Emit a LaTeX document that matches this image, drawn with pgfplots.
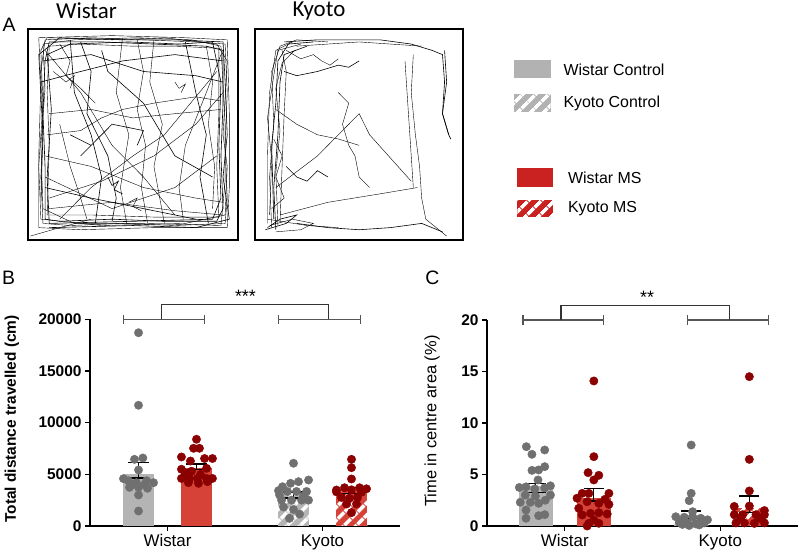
\documentclass[border=0pt]{standalone}
\usepackage{pgfplots}
\pgfplotsset{compat=1.18}
\usepackage{fontspec}
\setmainfont{Liberation Sans}
\newfontfamily\carlito{Carlito}
\usetikzlibrary{patterns.meta}
\definecolor{ctrlbar}{RGB}{180,180,180}
\definecolor{msbar}{RGB}{214,66,56}
\definecolor{ctrldot}{RGB}{112,112,112}
\definecolor{msdot}{RGB}{139,0,0}
\definecolor{leggray}{RGB}{178,178,178}
\definecolor{legred}{RGB}{202,34,32}
\definecolor{brk}{RGB}{85,85,85}
\newcommand{\errbar}[4]{% x, lo, hi, halfwidth
  \addplot[black,line width=1.3bp] coordinates {(#1,#2)(#1,#3)};
  \addplot[black,line width=1.3bp] coordinates {({#1-#4},#2)({#1+#4},#2)};
  \addplot[black,line width=1.3bp] coordinates {({#1-#4},#3)({#1+#4},#3)};
}
\pgfplotsset{
  trackbox/.style={scale only axis, xmin=0,xmax=100,ymin=0,ymax=100,
    xtick=\empty, ytick=\empty, axis line style={line width=1.8bp},
    cycle list={{black, line width=0.6bp, mark=none}}},
  barpanel/.style={scale only axis, clip=false,
    xmin=0.5, xmax=2.5, axis lines=left, axis line style={-, line width=1.5bp},
    tick align=outside, major tick length=5bp, tick style={line width=1.3bp, black},
    xtick={1,2}, xticklabels={Wistar,Kyoto},
    xticklabel style={font=\fontsize{17}{19}\selectfont},
    yticklabel style={font=\fontsize{15.5}{17}\selectfont\bfseries},
    /pgf/number format/assume math mode=true,
    /pgf/number format/1000 sep={},
    scaled y ticks=false},
  hatch/.style={postaction={pattern={Lines[angle=45,distance=10bp,line width=4bp]}, pattern color=white}},
}
\begin{document}
\begin{tikzpicture}[x=1bp,y=1bp]
\useasboundingbox (0,0) rectangle (800,555);
% ---------- Panel A ----------
\node[font=\fontsize{19.5}{21}\selectfont] at (9,530) {A};
\node[font=\carlito\fontsize{23}{25}\selectfont] at (86.5,544) {Wistar};
\node[font=\carlito\fontsize{23}{25}\selectfont] at (319,544) {Kyoto};
\begin{axis}[trackbox, at={(28.3bp,314.7bp)}, anchor=south west, width=209.4bp, height=211bp]
\addplot coordinates {(7,8)(6,30)(7,55)(6,80)(8,95)(30,96)(55,95)(80,94)(94,93)(95,70)(94,45)(95,20)(94,8)(70,7)(45,8)(20,7)(7,8)};
\addplot coordinates {(8,10)(8,35)(7,60)(8,85)(10,94)(35,94)(60,93)(85,92)(93,90)(93,65)(92,40)(93,15)(90,9)(65,9)(40,10)(15,9)(8,10)};
\addplot coordinates {(5,6)(5,40)(6,75)(5,96)(40,97)(75,96)(95,95)(96,60)(96,25)(95,6)(60,6)(25,5)(5,6)};
\addplot coordinates {(9,12)(10,45)(9,70)(10,92)(25,93)(50,92)(70,92)(91,91)(91,60)(90,35)(91,11)(60,11)(30,12)(9,12)};
\addplot coordinates {(6,20)(7,50)(5,88)(15,96)(45,95)(70,95)(93,94)(94,75)(95,50)(93,30)(96,10)(80,6)(50,7)(10,6)};
\addplot coordinates {(7,15)(6,45)(8,72)(7,93)(22,95)(52,96)(78,95)(92,92)(94,55)(94,28)(92,7)(55,8)(22,8)(7,15)};
\addplot coordinates {(6,10)(5,35)(7,65)(6,90)(9,96)(40,95)(65,96)(90,93)(95,85)(93,50)(95,35)(94,12)(75,8)(35,7)(6,10)};
\addplot coordinates {(10,8)(9,30)(11,62)(9,88)(20,93)(48,94)(72,93)(88,94)(92,75)(91,45)(92,20)(88,10)(50,9)(10,8)};
\addplot coordinates {(8,90)(25,70)(40,45)(55,30)(70,12)};
\addplot coordinates {(10,60)(30,62)(50,58)(70,60)(92,62)};
\addplot coordinates {(20,95)(22,70)(30,50)(35,30)(32,8)};
\addplot coordinates {(45,96)(42,70)(48,50)(44,25)(47,8)};
\addplot coordinates {(60,95)(58,75)(64,55)(60,35)(65,8)};
\addplot coordinates {(75,94)(80,70)(85,50)(82,30)(86,8)};
\addplot coordinates {(8,40)(30,35)(55,25)(80,20)(93,18)};
\addplot coordinates {(10,20)(35,28)(60,40)(80,55)(93,70)};
\addplot coordinates {(6,75)(25,80)(45,85)(70,88)(93,85)};
\addplot coordinates {(15,10)(30,25)(50,40)(65,50)(90,80)};
\addplot coordinates {(8,30)(40,15)(70,25)(90,40)};
\addplot coordinates {(20,50)(30,45)(25,40)(40,55)(55,52)(52,45)};
\addplot coordinates {(1,2)(15,6)(30,10)};
\addplot coordinates {(10,15)(40,18)(70,14)(93,12)};
\addplot coordinates {(8,25)(30,20)(55,15)(80,10)};
\addplot coordinates {(12,80)(18,75)(22,78)(20,72)};
\addplot coordinates {(70,75)(72,72)(75,74)(73,70)};
\addplot coordinates {(35,90)(38,80)(55,65)(70,40)(88,30)};
\addplot coordinates {(15,55)(20,35)(25,20)(28,10)};
\addplot coordinates {(92,88)(85,70)(75,45)(72,25)(74,10)};
\addplot coordinates {(25,94)(30,80)(28,60)(38,40)(42,20)(40,9)};
\addplot coordinates {(52,95)(55,80)(52,62)(56,45)(54,25)(57,8)};
\addplot coordinates {(85,92)(88,75)(86,55)(89,35)(88,15)};
\addplot coordinates {(7,85)(30,88)(55,80)(80,78)(93,75)};
\addplot coordinates {(9,50)(25,52)(35,58)(45,62)(60,65)(80,68)(92,66)};
\addplot coordinates {(15,93)(20,85)(18,78)(25,72)(32,65)};
\addplot coordinates {(38,30)(40,26)(43,28)(41,24)(45,22)};
\addplot coordinates {(48,18)(52,20)(50,16)(54,14)};
\end{axis}
\begin{axis}[trackbox, at={(255bp,314.7bp)}, anchor=south west, width=208.3bp, height=211bp]
\addplot coordinates {(8,6)(7,30)(9,55)(8,80)(12,92)(20,95)(35,94)};
\addplot coordinates {(10,5)(9,25)(11,50)(12,75)(14,88)(25,92)};
\addplot coordinates {(6,8)(6,40)(7,70)(10,90)(18,94)};
\addplot coordinates {(12,8)(13,35)(14,60)(15,80)(13,90)};
\addplot coordinates {(9,10)(8,45)(10,65)(11,85)(16,93)(28,94)};
\addplot coordinates {(7,12)(8,38)(6,58)(9,78)(11,90)(22,93)};
\addplot coordinates {(11,7)(10,32)(12,52)(10,72)(13,84)(19,90)};
\addplot coordinates {(14,94)(30,95)(45,95)(60,95)(75,93)(85,90)(90,88)(91,75)(90,60)(93,50)};
\addplot coordinates {(20,92)(35,93)(50,94)(65,93)(80,92)};
\addplot coordinates {(15,90)(22,86)(28,88)(32,85)(36,83)(40,86)};
\addplot coordinates {(5,5)(15,8)(20,12)(12,10)(6,6)};
\addplot coordinates {(6,10)(25,7)(40,6)};
\addplot coordinates {(7,7)(18,10)(28,8)(22,5)(10,4)};
\addplot coordinates {(20,8)(35,6)(50,5)(65,6)(80,8)(90,4)};
\addplot coordinates {(72,85)(73,70)(74,55)(75,40)(76,25)};
\addplot coordinates {(76,88)(75,70)(77,50)(79,35)(80,20)(82,10)(92,2)};
\addplot coordinates {(91,90)(92,75)(90,60)(93,50)(94,48)};
\addplot coordinates {(12,12)(35,18)(60,22)(78,25)};
\addplot coordinates {(10,25)(30,40)(45,55)(50,60)(55,50)(75,28)};
\addplot coordinates {(15,35)(20,30)(25,28)(30,33)(35,30)};
\addplot coordinates {(40,70)(45,65)(42,55)(45,45)(48,40)(50,30)(55,25)};
\addplot coordinates {(10,62)(20,55)(30,50)(40,48)(50,45)};
\addplot coordinates {(14,80)(20,78)(30,80)(40,83)(45,82)(50,85)};
\addplot coordinates {(8,15)(14,20)(10,30)(13,40)(9,48)};
\end{axis}
% ---------- Legend ----------
\fill[leggray] (514,476.7) rectangle (550.7,495);
\node[anchor=west, font=\fontsize{16}{18}\selectfont] at (560,485) {Wistar Control};
\fill[leggray] (514,443.3) rectangle (550.7,461);
\fill[pattern={Lines[angle=45,distance=10bp,line width=4bp]}, pattern color=white] (514,443.3) rectangle (550.7,461);
\node[anchor=west, font=\fontsize{16}{18}\selectfont] at (560,452) {Kyoto Control};
\fill[legred] (517.3,368.3) rectangle (553.3,386.7);
\node[anchor=west, font=\fontsize{16}{18}\selectfont] at (564.5,377.5) {Wistar MS};
\fill[legred] (517.3,337.7) rectangle (553.3,355);
\fill[pattern={Lines[angle=45,distance=10bp,line width=4bp]}, pattern color=white] (517.3,337.7) rectangle (553.3,355);
\node[anchor=west, font=\fontsize{16}{18}\selectfont] at (564.5,346.3) {Kyoto MS};
% ---------- Panel B ----------
\node[font=\fontsize{19.5}{21}\selectfont] at (8.5,277) {B};
\node[rotate=90, font=\fontsize{15.5}{17}\selectfont\bfseries] at (12,136) {Total distance travelled (cm)};
\begin{axis}[barpanel, at={(90bp,29bp)}, anchor=south west, width=310bp, height=206.7bp,
  ymin=0, ymax=20000, ytick={0,5000,10000,15000,20000}]
\addplot[ybar, bar width=0.206, bar shift=0pt, fill=ctrlbar, draw=none] coordinates {(0.813,5050)};
\addplot[ybar, bar width=0.206, bar shift=0pt, fill=msbar, draw=none] coordinates {(1.187,5600)};
\addplot[ybar, bar width=0.206, bar shift=0pt, fill=ctrlbar, draw=none, hatch] coordinates {(1.813,3000)};
\addplot[ybar, bar width=0.206, bar shift=0pt, fill=msbar, draw=none, hatch] coordinates {(2.187,3400)};
\addplot[only marks, mark=*, mark size=4.2bp, ctrldot] coordinates {(0.813,18700)(0.813,11680)(0.787,6450)(0.841,6580)(0.813,5420)(0.716,4580)(0.748,4380)(0.800,4190)(0.865,4380)(0.910,4190)(0.755,3740)(0.813,3740)(0.871,3650)(0.813,3000)(0.813,1450)(0.774,4000)(0.852,4000)};
\addplot[only marks, mark=*, mark size=4.2bp, msdot] coordinates {(1.187,8390)(1.168,7520)(1.206,7520)(1.090,6680)(1.148,6290)(1.239,6530)(1.290,6530)(1.090,5490)(1.252,5580)(1.090,4600)(1.142,4600)(1.193,4600)(1.252,4600)(1.290,4600)(1.116,5100)(1.200,4130)(1.258,4290)(1.155,5300)(1.213,5000)(1.135,4200)};
\addplot[only marks, mark=*, mark size=4.2bp, ctrldot] coordinates {(1.813,6070)(1.742,3800)(1.794,4130)(1.845,4290)(1.910,4450)(1.716,3420)(1.774,3340)(1.832,3340)(1.897,3340)(1.736,2500)(1.800,2500)(1.865,2500)(1.910,2500)(1.748,1840)(1.813,1600)(1.852,1150)(1.787,740)(1.723,3000)(1.877,2900)};
\addplot[only marks, mark=*, mark size=4.2bp, msdot] coordinates {(2.187,6450)(2.187,5640)(2.187,4550)(2.090,3480)(2.142,3700)(2.239,3700)(2.284,3600)(2.123,2760)(2.174,2700)(2.226,2760)(2.187,1290)(2.155,2130)(2.219,2130)(2.090,3300)(2.187,3500)(2.252,3250)};
\errbar{0.813}{4650}{6150}{0.065}
\errbar{1.187}{5500}{6000}{0.065}
\errbar{1.813}{2700}{3300}{0.065}
\errbar{2.187}{3150}{3700}{0.065}
% significance brackets
\addplot[brk, line width=1.2bp] coordinates {(0.716,20000)(1.239,20000)};
\addplot[brk, line width=1.2bp] coordinates {(0.716,19550)(0.716,20450)};
\addplot[brk, line width=1.2bp] coordinates {(1.239,19550)(1.239,20450)};
\addplot[brk, line width=1.2bp] coordinates {(1.716,20000)(2.245,20000)};
\addplot[brk, line width=1.2bp] coordinates {(1.716,19550)(1.716,20450)};
\addplot[brk, line width=1.2bp] coordinates {(2.245,19550)(2.245,20450)};
\addplot[black!80, line width=1.2bp] coordinates {(0.96,20000)(0.96,21450)(2.04,21450)(2.04,20000)};
\node[anchor=south, font=\fontsize{18}{20}\selectfont] at (axis cs:1.503,21300) {***};
\end{axis}
% ---------- Panel C ----------
\node[font=\fontsize{19.5}{21}\selectfont] at (432.5,277) {C};
\node[rotate=90, font=\fontsize{16.5}{18}\selectfont] at (432,134) {Time in centre area (\%)};
\begin{axis}[barpanel, at={(487bp,29bp)}, anchor=south west, width=311bp, height=206bp,
  ymin=0, ymax=20, ytick={0,5,10,15,20}]
\addplot[ybar, bar width=0.22, bar shift=0pt, fill=ctrlbar, draw=none] coordinates {(0.813,3.9)};
\addplot[ybar, bar width=0.22, bar shift=0pt, fill=msbar, draw=none] coordinates {(1.187,2.7)};
\addplot[ybar, bar width=0.22, bar shift=0pt, fill=ctrlbar, draw=none, hatch] coordinates {(1.813,1.07)};
\addplot[ybar, bar width=0.22, bar shift=0pt, fill=msbar, draw=none, hatch] coordinates {(2.187,1.78)};
\addplot[only marks, mark=*, mark size=4.2bp, ctrldot] coordinates {(0.753,7.7)(0.789,6.96)(0.871,7.38)(0.789,5.4)(0.832,5.44)(0.871,5.76)(0.828,4.47)(0.708,3.74)(0.751,3.8)(0.807,3.6)(0.871,3.7)(0.908,3.9)(0.746,3.0)(0.811,2.9)(0.908,3.0)(0.714,2.3)(0.779,2.3)(0.832,2.2)(0.875,2.5)(0.751,1.55)(0.751,0.75)(0.832,1.0)(0.871,1.1)};
\addplot[only marks, mark=*, mark size=4.2bp, msdot] coordinates {(1.187,14.08)(1.187,6.73)(1.150,5.18)(1.219,4.92)(1.187,4.47)(1.112,3.17)(1.155,3.17)(1.284,3.17)(1.090,1.72)(1.144,2.36)(1.219,2.2)(1.258,2.59)(1.112,1.07)(1.166,1.23)(1.219,1.29)(1.273,1.17)(1.187,0.58)(1.155,0.26)(1.219,0.26)(1.144,0.0)(1.284,2.1)(1.079,2.7)};
\addplot[only marks, mark=*, mark size=4.2bp, ctrldot] coordinates {(1.813,7.86)(1.813,3.17)(1.800,2.46)(1.822,1.39)(1.714,0.9)(1.768,0.85)(1.822,0.9)(1.875,0.75)(1.918,0.6)(1.736,0.35)(1.789,0.3)(1.843,0.2)(1.897,0.3)(1.800,0.05)(1.757,0.15)(1.865,0.1)};
\addplot[only marks, mark=*, mark size=4.2bp, msdot] coordinates {(2.187,14.5)(2.187,6.47)(2.187,3.4)(2.187,1.94)(2.090,1.9)(2.284,1.5)(2.090,1.1)(2.144,1.1)(2.230,1.1)(2.284,1.1)(2.101,0.3)(2.155,0.3)(2.219,0.25)(2.284,0.3)(2.133,0.8)(2.252,0.75)};
\errbar{0.813}{3.27}{4.14}{0.065}
\errbar{1.187}{2.43}{3.62}{0.065}
\errbar{1.813}{0.7}{1.45}{0.065}
\errbar{2.187}{1.3}{2.9}{0.065}
\addplot[brk, line width=1.2bp] coordinates {(0.731,20)(1.249,20)};
\addplot[brk, line width=1.2bp] coordinates {(0.731,19.56)(0.731,20.44)};
\addplot[brk, line width=1.2bp] coordinates {(1.249,19.56)(1.249,20.44)};
\addplot[brk, line width=1.2bp] coordinates {(1.789,20)(2.311,20)};
\addplot[brk, line width=1.2bp] coordinates {(1.789,19.56)(1.789,20.44)};
\addplot[brk, line width=1.2bp] coordinates {(2.311,19.56)(2.311,20.44)};
\addplot[black!80, line width=1.2bp] coordinates {(0.976,20)(0.976,21.43)(2.058,21.43)(2.058,20)};
\node[anchor=south, font=\fontsize{18}{20}\selectfont] at (axis cs:1.53,21.3) {**};
\end{axis}
\end{tikzpicture}
\end{document}
